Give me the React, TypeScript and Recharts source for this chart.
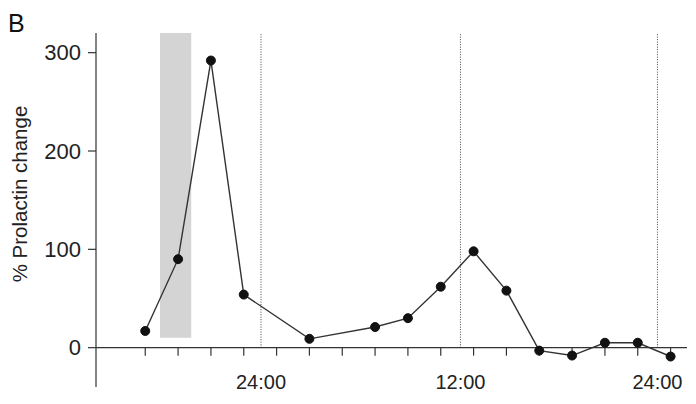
import React from 'react';
import {
  ComposedChart,
  Line,
  XAxis,
  YAxis,
  ReferenceLine,
  ReferenceArea,
} from 'recharts';

// Sample times, in hours from the first midnight (17 = 17:00 on day 1)
const sampleHours = [17, 19, 21, 23, 27, 31, 33, 35, 37, 39, 41, 43, 45, 47, 49];
// % Prolactin change at each sample
const prolactinChange = [17, 90, 292, 54, 9, 21, 30, 62, 98, 58, -3, -8, 5, 5, -9];

// Minor tick marks on the x axis (every two hours)
const minorTicks = [17, 19, 21, 23, 25, 27, 29, 31, 33, 35, 37, 39, 41, 43, 45, 47, 49];

// Dotted clock-time markers and their labels
const markerHours = [24.05, 36.2, 48.2];
const markerLabels = ['24:00', '12:00', '24:00'];

// Shaded stimulus period
const shadeStart = 17.9;
const shadeEnd = 19.8;
const shadeLow = 10;
const shadeHigh = 320;

const yTicks = [0, 100, 200, 300];

const data = sampleHours.map((h, i) => ({ h, v: prolactinChange[i] }));

const FONT = '"Liberation Sans", Arial, Helvetica, sans-serif';

const XTick = (props: any) => {
  const { x, y, payload } = props;
  const idx = markerHours.indexOf(payload.value);
  return (
    <text
      x={x}
      y={y + 2}
      textAnchor="middle"
      fontSize={20}
      fontFamily={FONT}
      fill="#222"
    >
      {idx >= 0 ? markerLabels[idx] : ''}
    </text>
  );
};

const YLabel = () => (
  <text
    x={27}
    y={194}
    transform="rotate(-90, 27, 194)"
    textAnchor="middle"
    fontSize={20.5}
    fontFamily={FONT}
    fill="#222"
  >
    % Prolactin change
  </text>
);

export default function App() {
  return (
    <div style={{ position: 'absolute', left: 0, top: 0, width: 696, height: 404, background: '#fff' }}>
      <div
        style={{
          position: 'absolute',
          left: 8,
          top: 8,
          fontFamily: FONT,
          fontSize: 25,
          color: '#111',
          lineHeight: '30px',
        }}
      >
        B
      </div>
      <ComposedChart
        width={696}
        height={404}
        data={data}
        margin={{ top: 33, right: 9, bottom: 0, left: 0 }}
      >
        <XAxis
          dataKey="h"
          type="number"
          domain={[14, 50]}
          allowDataOverflow
          ticks={markerHours}
          axisLine={false}
          tickLine={false}
          tickSize={0}
          tickMargin={0}
          height={17}
          tick={<XTick />}
          interval={0}
        />
        <YAxis
          type="number"
          domain={[-40, 320]}
          allowDataOverflow
          ticks={yTicks}
          width={96}
          tickSize={8}
          tickMargin={7}
          axisLine={{ stroke: '#333', strokeWidth: 1.2 }}
          tickLine={{ stroke: '#333', strokeWidth: 1.2 }}
          tick={{ fontSize: 22, fontFamily: FONT, fill: '#222' }}
          label={<YLabel />}
        />
        <ReferenceArea
          x1={shadeStart}
          x2={shadeEnd}
          y1={shadeLow}
          y2={shadeHigh}
          fill="#d4d4d4"
          fillOpacity={1}
          stroke="none"
        />
        {markerHours.map((m, i) => (
          <ReferenceLine
            key={'m' + i}
            segment={[
              { x: m, y: 0 },
              { x: m, y: 320 },
            ]}
            stroke="#444"
            strokeWidth={1}
            strokeDasharray="1 1.5"
          />
        ))}
        <ReferenceLine y={0} stroke="#333" strokeWidth={1.2} />
        {minorTicks.map((t, i) => (
          <ReferenceLine
            key={'t' + i}
            segment={[
              { x: t, y: 0 },
              { x: t, y: -8.1 },
            ]}
            stroke="#333"
            strokeWidth={1.2}
          />
        ))}
        <Line
          type="linear"
          dataKey="v"
          stroke="#333"
          strokeWidth={1.4}
          dot={{ r: 4.5, fill: '#111', stroke: '#111', strokeWidth: 1 }}
          activeDot={false}
          isAnimationActive={false}
        />
      </ComposedChart>
    </div>
  );
}
